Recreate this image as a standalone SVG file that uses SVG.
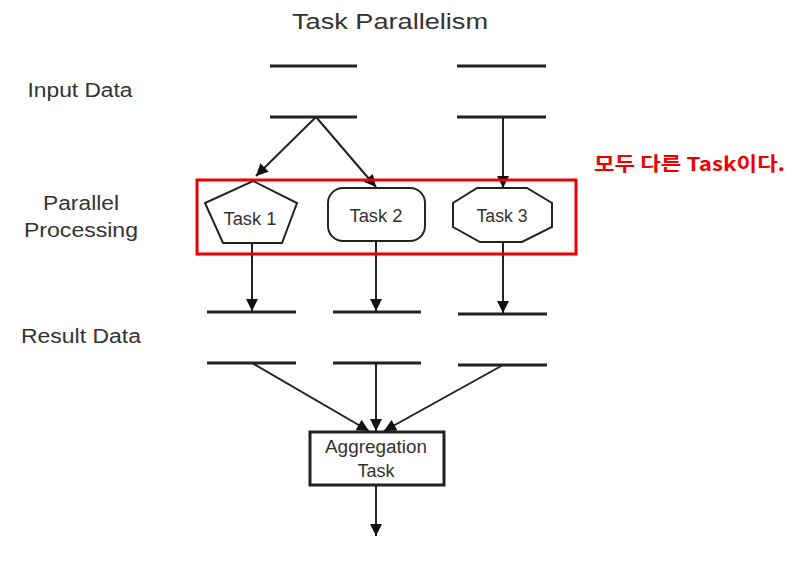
<svg xmlns="http://www.w3.org/2000/svg" width="801" height="561" viewBox="0 0 801 561">
<style>
.lbl{font-family:"Liberation Sans",Arial,sans-serif;fill:#333;}
.bar{stroke:#222;stroke-width:3;fill:none;}
.shape{stroke:#222;stroke-width:2;fill:#fff;}
.box{stroke:#222;stroke-width:3;fill:#fff;}
.conn{stroke:#222;stroke-width:2;fill:none;marker-end:url(#ah);}
</style>
<defs>
<marker id="ah" viewBox="0 0 10 10" refX="10" refY="5" markerWidth="14" markerHeight="12" markerUnits="userSpaceOnUse" orient="auto">
<path d="M0,0 L10,5 L0,10 z" fill="#111"/>
</marker>
</defs>
<rect width="801" height="561" fill="#fff"/>
<text class="lbl" x="390" y="29" font-size="22" text-anchor="middle" textLength="196" lengthAdjust="spacingAndGlyphs">Task Parallelism</text>
<g id="labels">
<text class="lbl" x="80" y="97" font-size="20" text-anchor="middle" textLength="105" lengthAdjust="spacingAndGlyphs">Input Data</text>
<text class="lbl" x="81" y="210" font-size="20" text-anchor="middle" textLength="76" lengthAdjust="spacingAndGlyphs">Parallel</text>
<text class="lbl" x="81" y="237" font-size="20" text-anchor="middle" textLength="114" lengthAdjust="spacingAndGlyphs">Processing</text>
<text class="lbl" x="81" y="343" font-size="20" text-anchor="middle" textLength="120" lengthAdjust="spacingAndGlyphs">Result Data</text>
</g>
<g id="input-data">
<line class="bar" x1="270" y1="66" x2="357" y2="66"/>
<line class="bar" x1="457" y1="66" x2="546" y2="66"/>
<line class="bar" x1="270" y1="117" x2="357" y2="117"/>
<line class="bar" x1="457" y1="117" x2="546" y2="117"/>
</g>
<g id="task1">
<polygon class="shape" points="253,181 297,203 282,243 223,243 205,203"/>
<text class="lbl" x="250" y="225" font-size="18" text-anchor="middle" textLength="53" lengthAdjust="spacingAndGlyphs">Task 1</text>
</g>
<g id="task2">
<rect class="shape" x="328" y="188" width="97" height="53" rx="15"/>
<text class="lbl" x="376" y="222" font-size="18" text-anchor="middle" textLength="53" lengthAdjust="spacingAndGlyphs">Task 2</text>
</g>
<g id="task3">
<polygon class="shape" points="477,188 527,188 552,203 552,227 522,242 480,242 453,227 453,203"/>
<text class="lbl" x="502" y="222" font-size="18" text-anchor="middle" textLength="51" lengthAdjust="spacingAndGlyphs">Task 3</text>
</g>
<g id="result-data">
<line class="bar" x1="207" y1="312" x2="296" y2="312"/>
<line class="bar" x1="333" y1="312" x2="421" y2="312"/>
<line class="bar" x1="458" y1="314" x2="547" y2="314"/>
<line class="bar" x1="207" y1="363" x2="296" y2="363"/>
<line class="bar" x1="333" y1="363" x2="421" y2="363"/>
<line class="bar" x1="458" y1="365" x2="547" y2="365"/>
</g>
<g id="aggregation">
<rect class="box" x="310" y="432" width="134" height="53"/>
<text class="lbl" x="376" y="453" font-size="18" text-anchor="middle" textLength="102" lengthAdjust="spacingAndGlyphs">Aggregation</text>
<text class="lbl" x="376" y="477" font-size="18" text-anchor="middle" textLength="37" lengthAdjust="spacingAndGlyphs">Task</text>
</g>
<g id="connectors">
<line class="conn" x1="316" y1="117" x2="256" y2="176"/>
<line class="conn" x1="316" y1="117" x2="376" y2="187"/>
<line class="conn" x1="503" y1="117" x2="503" y2="188"/>
<line class="conn" x1="252" y1="243" x2="252" y2="311"/>
<line class="conn" x1="376" y1="241" x2="376" y2="311"/>
<line class="conn" x1="503" y1="242" x2="503" y2="313"/>
<line class="conn" x1="252" y1="363" x2="369" y2="431"/>
<line class="conn" x1="376" y1="363" x2="376" y2="431"/>
<line class="conn" x1="503" y1="365" x2="384" y2="431"/>
<line class="conn" x1="376" y1="485" x2="376" y2="536"/>
</g>
<g id="highlight">
<rect x="197" y="180" width="379" height="74" fill="none" stroke="#ee0000" stroke-width="3"/>
<text x="594" y="171" font-family="'Noto Sans CJK KR','Noto Sans',sans-serif" font-weight="bold" font-size="19" fill="#ee0000" textLength="191" lengthAdjust="spacingAndGlyphs">모두 다른 Task이다.</text>
</g>
</svg>
